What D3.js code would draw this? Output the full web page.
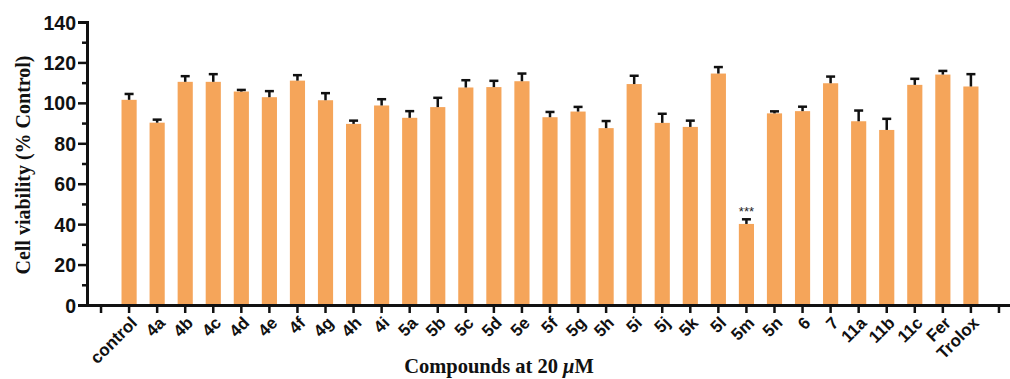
<!DOCTYPE html>
<head>
<meta charset="utf-8">
<style>
body, html {
  margin: 0;
  background: #fff;
}
.tick text {
  font-family: "Liberation Sans", Arial, sans-serif;
  font-weight: bold;
  fill: #111;
}
.bar {
  fill: #f5a55a;
}
.err {
  stroke: #111;
  stroke-width: 2.5;
  fill: none;
}
.title {
  font-family: "Liberation Serif", "Times New Roman", serif;
  font-weight: bold;
  fill: #111;
}
</style>
<script src="https://d3js.org/d3.v7.min.js"></script>
</head>
<body>
<div id="chart"></div>
<script>

// values
var compounds = ["control", "4a", "4b", "4c", "4d", "4e", "4f", "4g", "4h", "4i",
                 "5a", "5b", "5c", "5d", "5e", "5f", "5g", "5h", "5i", "5j", "5k",
                 "5l", "5m", "5n", "6", "7", "11a", "11b", "11c", "Fer", "Trolox"];
var viability = [101.5, 90.2, 110.4, 110.4, 105.6, 102.8, 111.0, 101.3, 89.6, 98.7,
                 92.6, 97.9, 107.6, 107.8, 110.7, 92.9, 95.7, 87.5, 109.3, 90.1, 88.1,
                 114.5, 40.1, 94.8, 95.9, 109.7, 90.9, 86.6, 108.9, 114.0, 108.1];
var errors    = [2.9, 1.5, 2.8, 3.8, 0.8, 3.0, 2.7, 3.5, 1.6, 3.1,
                 3.3, 4.6, 3.6, 3.1, 3.8, 2.6, 2.3, 3.5, 4.1, 4.5, 3.1,
                 3.2, 2.3, 1.0, 2.2, 3.3, 5.3, 5.5, 3.0, 1.8, 6.1];
var marks     = {"5m": "***"};
var yTicks = [0, 20, 40, 60, 80, 100, 120, 140];
var yMinor = [10, 30, 50, 70, 90, 110, 130];

var width = 1010,
    height = 379,
    plotLeft = 87,
    plotRight = 1013,
    plotTop = 22,
    plotBottom = 305;

// empty slots before and after the compounds, as in the original axis
var slots = ["_pre"].concat(compounds, ["_post"]);

var x = d3.scaleBand()
    .domain(slots)
    .range([plotLeft, plotRight])
    .paddingInner(0.46)
    .paddingOuter(0.23);

var y = d3.scaleLinear()
    .domain([0, 140])
    .range([plotBottom, plotTop]);

var svg = d3.select("#chart").append("svg")
    .attr("width", width)
    .attr("height", height);

//--------------------------------------
// bars
svg.selectAll("rect.bar")
    .data(compounds)
    .enter().append("rect")
    .attr("class", "bar")
    .attr("x", function(d) { return x(d); })
    .attr("width", x.bandwidth())
    .attr("y", function(d, i) { return y(viability[i]); })
    .attr("height", function(d, i) { return y(0) - y(viability[i]); });

// error bars (upper only)
var eb = svg.selectAll("g.err")
    .data(compounds)
    .enter().append("g")
    .attr("class", "err");

eb.append("line")
    .attr("x1", function(d) { return x(d) + x.bandwidth() / 2; })
    .attr("x2", function(d) { return x(d) + x.bandwidth() / 2; })
    .attr("y1", function(d, i) { return y(viability[i]); })
    .attr("y2", function(d, i) { return y(viability[i] + errors[i]); });

eb.append("line")
    .attr("x1", function(d) { return x(d) + x.bandwidth() / 2 - 4.5; })
    .attr("x2", function(d) { return x(d) + x.bandwidth() / 2 + 4.5; })
    .attr("y1", function(d, i) { return y(viability[i] + errors[i]); })
    .attr("y2", function(d, i) { return y(viability[i] + errors[i]); });

// significance marks
svg.selectAll("text.sig")
    .data(compounds.filter(function(d) { return marks[d]; }))
    .enter().append("text")
    .attr("class", "sig")
    .attr("x", function(d) { return x(d) + x.bandwidth() / 2; })
    .attr("y", function(d) { var i = compounds.indexOf(d); return y(viability[i] + errors[i]) - 3; })
    .attr("text-anchor", "middle")
    .style("font-family", "Liberation Sans, Arial, sans-serif")
    .style("font-size", "13px")
    .style("fill", "#222")
    .text(function(d) { return marks[d]; });

//--------------------------------------
// y axis
var yAxis = svg.append("g")
    .attr("transform", "translate(" + plotLeft + ",0)")
    .call(d3.axisLeft(y).tickValues(yTicks).tickSize(9).tickPadding(2));

svg.append("g")
    .attr("transform", "translate(" + plotLeft + ",0)")
    .call(d3.axisLeft(y).tickValues(yMinor).tickSize(5).tickFormat(""))
    .select(".domain").remove();

yAxis.selectAll("text").style("font-size", "19.5px").attr("dy", "0.36em");

// x axis
var xAxis = svg.append("g")
    .attr("transform", "translate(0," + plotBottom + ")")
    .call(d3.axisBottom(x).tickSize(8).tickSizeOuter(0)
      .tickFormat(function(d) { return d.charAt(0) == "_" ? "" : d; }));

xAxis.selectAll("text")
    .style("font-size", "17px")
    .attr("text-anchor", "end")
    .attr("dy", "0")
    .attr("y", 0)
    .attr("transform", "translate(9,19) rotate(-45)");

svg.selectAll(".domain").attr("stroke-width", 3).attr("stroke", "#111");
svg.selectAll(".tick line").attr("stroke-width", 2.5).attr("stroke", "#111");

//--------------------------------------
// titles
svg.append("text")
    .attr("class", "title")
    .attr("transform", "translate(30,165) rotate(-90)")
    .attr("text-anchor", "middle")
    .style("font-size", "20px")
    .text("Cell viability (% Control)");

var xt = svg.append("text")
    .attr("class", "title")
    .attr("x", 499)
    .attr("y", 373)
    .attr("text-anchor", "middle")
    .style("font-size", "20.5px");
xt.append("tspan").text("Compounds at 20 ");
xt.append("tspan").style("font-style", "italic").text("\u03bc");
xt.append("tspan").text("M");

</script>
</body>
